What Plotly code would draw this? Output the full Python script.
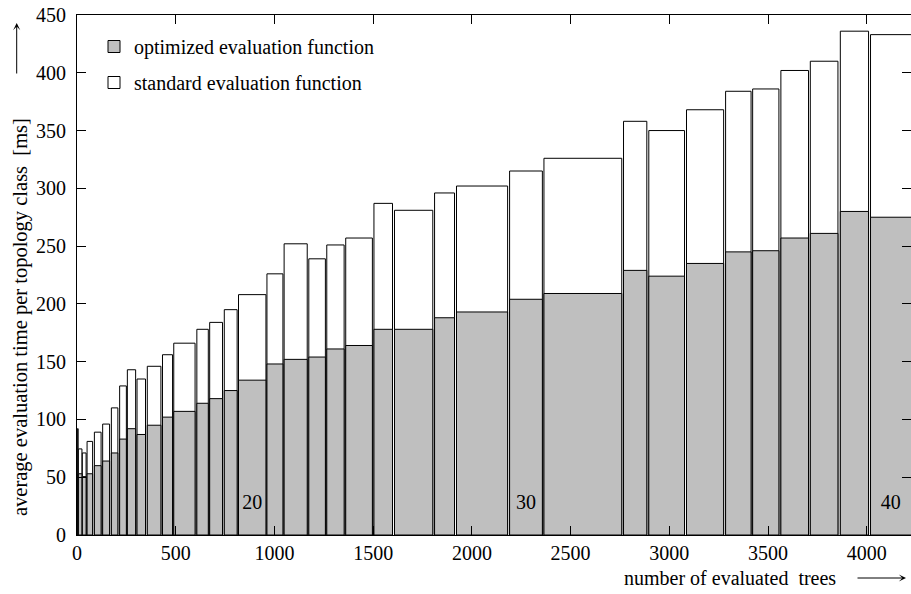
import plotly.graph_objects as go

# topology classes (number of taxa) and the tree-count interval each class covers
classes = list(range(4, 41))
trees_start = [2, 7, 27, 51, 88, 130, 174, 216, 255, 304, 356, 433, 490, 607, 672, 746,
               818, 962, 1049, 1174, 1265, 1361, 1504, 1608, 1811, 1922, 2191, 2365, 2768,
               2896, 3087, 3285, 3422, 3565, 3714, 3866, 4019]
trees_end = [6, 25, 46, 79, 122, 165, 207, 250, 297, 347, 425, 484, 598, 665, 737, 811,
             957, 1043, 1166, 1258, 1353, 1496, 1598, 1802, 1912, 2181, 2357, 2759, 2886,
             3077, 3275, 3414, 3555, 3705, 3854, 4009, 4290]

# average evaluation time per topology class [ms]
optimized_ms = [52, 53, 50.5, 53, 60, 64, 71, 83, 92, 87, 95, 102, 107, 114, 118, 125,
                134, 148, 152, 154, 161, 164, 178, 178, 188, 193, 204, 209, 229, 224,
                235, 245, 246, 257, 261, 280, 275]
standard_ms = [92, 74.5, 71, 81, 89, 96, 110, 129, 143, 135, 146, 156, 166, 178, 184, 195,
               208, 226, 252, 239, 251, 257, 287, 281, 296, 302, 315, 326, 358, 350,
               368, 384, 386, 402, 410, 436, 433]

labelled_classes = [20, 30, 40]
x_ticks = [0, 500, 1000, 1500, 2000, 2500, 3000, 3500, 4000]
y_ticks = list(range(0, 451, 50))

X_MAX = 4224
Y_MAX = 450

centers = [(s + e) / 2 for s, e in zip(trees_start, trees_end)]
widths = [e - s for s, e in zip(trees_start, trees_end)]

FONT = "Liberation Serif"
GRAY = "#bfbfbf"

fig = go.Figure()
fig.add_trace(go.Bar(
    x=centers, y=standard_ms, width=widths,
    name="standard evaluation function",
    marker=dict(color="white", line=dict(color="black", width=1)),
    legendgroup="std", legendrank=2,
))
fig.add_trace(go.Bar(
    x=centers, y=optimized_ms, width=widths,
    name="optimized evaluation function",
    marker=dict(color=GRAY, line=dict(color="black", width=1)),
    legendgroup="opt", legendrank=1,
))

# class number labels inside their bars (centre of the visible part of the bar)
lab_x, lab_t = [], []
for c in labelled_classes:
    i = classes.index(c)
    lab_x.append((trees_start[i] + min(trees_end[i], X_MAX)) / 2)
    lab_t.append(str(c))
fig.add_trace(go.Scatter(
    x=lab_x, y=[26.5] * len(lab_x), text=lab_t, mode="text",
    textfont=dict(family=FONT, size=20, color="black"),
    showlegend=False, hoverinfo="skip", cliponaxis=False,
))

W, H = 911, 594
ML, MR, MT, MB = 77, 0, 15, 59
pw = W - ML - MR
ph = H - MT - MB

def px_x(p):
    return (p - ML) / pw

def px_y(p):
    return (H - MB - p) / ph

fig.update_layout(
    width=W, height=H,
    margin=dict(l=ML, r=MR, t=MT, b=MB, pad=0, autoexpand=False),
    barmode="overlay",
    plot_bgcolor="white", paper_bgcolor="white",
    font=dict(family=FONT, size=20, color="black"),
    showlegend=True,
    legend=dict(
        x=px_x(94), y=px_y(27), xanchor="left", yanchor="top",
        bgcolor="rgba(0,0,0,0)", borderwidth=0,
        font=dict(family=FONT, size=20, color="black"),
        tracegroupgap=7, traceorder="grouped",
    ),
    xaxis=dict(
        range=[0, X_MAX], tickvals=x_ticks, ticks="inside", ticklen=9,
        tickcolor="black", showline=True, linecolor="black", linewidth=1,
        mirror="allticks", showgrid=False, zeroline=False, automargin=False,
        tickfont=dict(family=FONT, size=20), ticklabelstandoff=0,
    ),
    yaxis=dict(
        range=[0, Y_MAX], tickvals=y_ticks, ticks="inside", ticklen=9,
        tickcolor="black", showline=True, linecolor="black", linewidth=1,
        mirror="allticks", showgrid=False, zeroline=False, automargin=False,
        tickfont=dict(family=FONT, size=20), ticklabelstandoff=6,
    ),
    annotations=[
        dict(text="average evaluation time per topology class  [ms]",
             xref="paper", yref="paper", x=px_x(21), y=px_y(317),
             textangle=-90, showarrow=False, xanchor="center", yanchor="middle",
             font=dict(family=FONT, size=20.5)),
        dict(text="", xref="paper", yref="paper", x=px_x(16.7), y=px_y(23),
             ax=0, ay=52, showarrow=True, arrowhead=3, arrowsize=1.2, arrowwidth=1,
             arrowcolor="black"),
        dict(text="number of evaluated  trees",
             xref="paper", yref="paper", x=px_x(730), y=px_y(578),
             showarrow=False, xanchor="center", yanchor="middle",
             font=dict(family=FONT, size=20)),
        dict(text="", xref="paper", yref="paper", x=px_x(906), y=px_y(578),
             ax=-50, ay=0, showarrow=True, arrowhead=3, arrowsize=1.2, arrowwidth=1,
             arrowcolor="black"),
    ],
)

fig.write_html("out.html",
               config={"displayModeBar": False},
               post_script="document.body.style.margin='0';"
                           "document.body.style.overflow='hidden';")
